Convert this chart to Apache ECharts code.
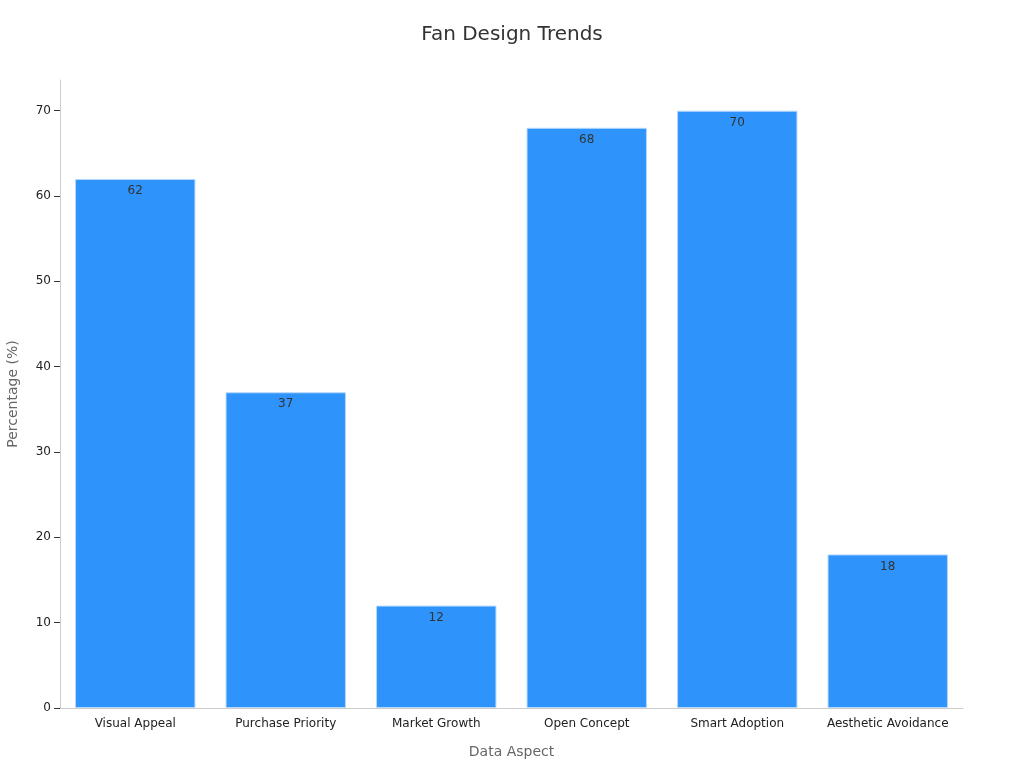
<!DOCTYPE html>
<html><head><meta charset="utf-8">
<script src="https://cdn.jsdelivr.net/npm/echarts@6/dist/echarts.min.js"></script>
<style>html,body{margin:0;padding:0;background:#fff}#c{width:1024px;height:768px}</style>
</head><body><div id="c"></div>
<script>
const categories = ["Visual Appeal","Purchase Priority","Market Growth","Open Concept","Smart Adoption","Aesthetic Avoidance"];
const values = [62,37,12,68,70,18];
const yTicks = [0,10,20,30,40,50,60,70];

const chart = echarts.init(document.getElementById('c'));
chart.setOption({
  animation:false,
  textStyle:{fontFamily:'DejaVu Sans'},
  title:{text:'Fan Design Trends',left:'center',top:20,textStyle:{fontSize:20,fontWeight:'normal',color:'#333',fontFamily:'DejaVu Sans'}},
  grid:{left:60,right:61,top:80,bottom:60,containLabel:false,outerBoundsMode:'none'},
  xAxis:{type:'category',data:categories,name:'Data Aspect',nameLocation:'middle',nameGap:37,
    nameTextStyle:{fontSize:14,color:'#666'},
    axisLine:{lineStyle:{color:'#ccc'}},axisTick:{alignWithLabel:true,length:6,lineStyle:{color:'#999'}},
    axisLabel:{fontSize:12,color:'#222',margin:10,interval:0}},
  yAxis:{type:'value',min:0,max:73.6,name:'Percentage (%)',nameLocation:'middle',nameGap:40,
    nameTextStyle:{fontSize:14,color:'#666'},
    axisLine:{show:true,lineStyle:{color:'#ccc'}},
    axisTick:{show:true,length:6,customValues:yTicks,lineStyle:{color:'#333'}},
    splitLine:{show:false},
    axisLabel:{fontSize:12,color:'#222',margin:9,customValues:yTicks}},
  series:[{type:'bar',data:values,barCategoryGap:'20%',
    itemStyle:{color:'#2E93FA',borderColor:'#b5d8fc',borderWidth:1},
    label:{show:true,position:'insideTop',offset:[0,1],color:'#333',fontSize:12}}]
});
</script></body></html>
